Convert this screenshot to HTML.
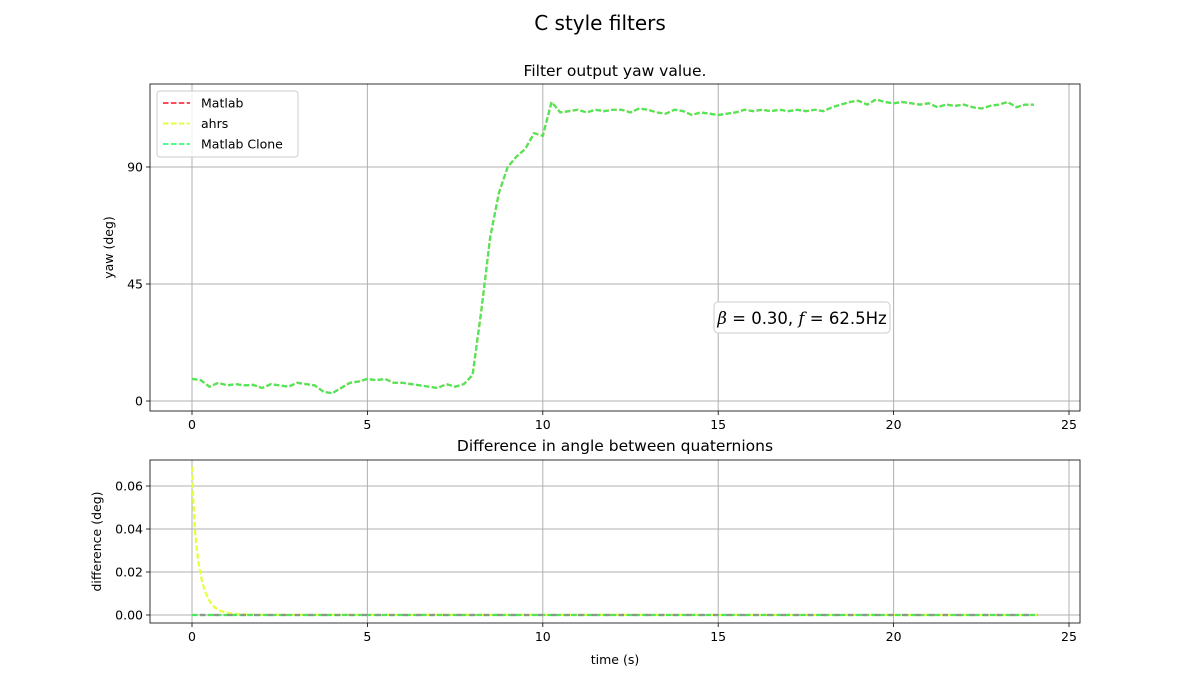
<!DOCTYPE html>
<html><head><meta charset="utf-8"><style>
body{margin:0;background:#fff;}
svg{display:block;font-family:"DejaVu Sans","Liberation Sans",sans-serif;}
</style></head><body>
<svg id="fig" width="1200" height="700" viewBox="0 0 1200 700">
<rect width="1200" height="700" fill="#fff"/>
<text x="600" y="30" font-size="20" text-anchor="middle">C style filters</text>
<g id="top"></g>
<g id="bot"></g>
</svg>
<script>
const yawDt = 0.25;
const yawValues = [8.5,8,5.5,7,6,6.5,6,6.2,5,6.5,6,5.5,7,6.5,6,3.5,3,5,7,7.5,8.5,8,8.5,7,7,6.5,6,5.5,5,6.5,5.5,6.5,10,35,63,80,90,94,97,103,102,115,111,111.5,112,111,112,111.5,112,112,111,112.5,112,111,110.5,112,111.5,110,111,110.5,110,110.5,111,112,111.5,112,111.5,112,111.5,112,111.5,112,111.5,113,114,115,115.5,114,116,115,114.5,115,114.5,114,114.5,113,114,113.5,114,113,112.5,113.5,114,115,113,114,114];
const diffTimes = [0,0.03,0.085,0.14,0.2,0.28,0.37,0.5,0.65,0.8,1,1.3,1.8,24.1];
const ahrsDiff = [0.069,0.055,0.0388,0.03,0.023,0.016,0.011,0.0065,0.0035,0.002,0.001,0.0004,0.0001,0];
const cloneDiff = [0,0];
const cloneTimes = [0,24.1];
const xTicks = [0,5,10,15,20,25];
const yawTicks = [0,45,90];
const diffTicks = [0,0.02,0.04,0.06];
const diffTickLabels = ["0.00","0.02","0.04","0.06"];
const legendLabels = ["Matlab","ahrs","Matlab Clone"];
const colors = ["#ff4a5a","#e6ff3a","#4dff8a"];

const NS="http://www.w3.org/2000/svg";
function mk(parent,tag,attrs){const e=document.createElementNS(NS,tag);for(const k in attrs)e.setAttribute(k,attrs[k]);parent.appendChild(e);return e;}
const L=150,R=1080;
const xs=t=>192+(t-0)*(1069-192)/25;
function axes(g,top,bottom,ys,ticks,labels,ylabel){
  xTicks.forEach(t=>{const l=mk(g,'line',{x1:xs(t),x2:xs(t),y1:top,y2:bottom,stroke:'#b0b0b0','stroke-width':1});
    
    const tk=mk(g,'line',{x1:xs(t),x2:xs(t),y1:bottom,y2:bottom+4,stroke:'#000','stroke-width':0.8});
    
    const tx=mk(g,'text',{x:xs(t),y:bottom+18,'font-size':12.5,'text-anchor':'middle'});tx.textContent=t;
    });
  ticks.forEach((v,i)=>{const y=ys(v);const l=mk(g,'line',{x1:L,x2:R,y1:y,y2:y,stroke:'#b0b0b0','stroke-width':1});
    
    const tk=mk(g,'line',{x1:L-4,x2:L,y1:y,y2:y,stroke:'#000','stroke-width':0.8});
    
    const tx=mk(g,'text',{x:L-7,y:y+4.5,'font-size':12.5,'text-anchor':'end'});tx.textContent=labels[i];
    });
  const yl=mk(g,'text',{x:0,y:0,'font-size':12.5,'text-anchor':'middle',transform:`translate(${ylabel[1]},${(top+bottom)/2}) rotate(-90)`});
  yl.textContent=ylabel[0];
  
}
function line(g,xsArr,vals,ys,color,name){
  const d=vals.map((v,i)=>(i?'L':'M')+xs(xsArr(i)).toFixed(1)+','+ys(v).toFixed(1)).join('');
  const p=mk(g,'path',{d,fill:'none',stroke:color,'stroke-width':2.2,'stroke-dasharray':'5.5,2.4'});
  
}
const gt=document.getElementById('top');
const yT=v=>401-v*(401-167)/90;
axes(gt,84,411,yT,yawTicks,yawTicks.map(String),['yaw (deg)',113]);
line(gt,i=>i*yawDt,yawValues,yT,colors[0],'matlab-yaw-line');
line(gt,i=>i*yawDt,yawValues,yT,colors[1],'ahrs-yaw-line');
line(gt,i=>i*yawDt,yawValues,yT,'#4ee65c','matlab-clone-yaw-line');
let fr=mk(gt,'rect',{x:L,y:84,width:R-L,height:327,fill:'none',stroke:'#000','stroke-width':0.8});

let tt=mk(gt,'text',{x:615,y:76,'font-size':15.5,'text-anchor':'middle'});tt.textContent='Filter output yaw value.';

const lg=mk(gt,'g',{});
mk(lg,'rect',{x:157,y:91,width:141,height:66,rx:3,fill:'#fff','fill-opacity':0.8,stroke:'#ccc'});
legendLabels.forEach((s,i)=>{const y=103+i*20.5;
  const e=mk(lg,'g',{});
  mk(e,'line',{x1:163,x2:190,y1:y,y2:y,stroke:colors[i],'stroke-width':2,'stroke-dasharray':'5.5,2.4'});
  const t=mk(e,'text',{x:201,y:y+4.5,'font-size':12.5});t.textContent=s;});
const an=mk(gt,'g',{});
mk(an,'rect',{x:714,y:302,width:176,height:31,rx:4,fill:'#fff',stroke:'#ccc'});
const at=mk(an,'text',{x:802,y:324,'font-size':16.5,'text-anchor':'middle'});
at.innerHTML='<tspan font-style="italic" font-family="DejaVu Serif, serif">β</tspan> = 0.30,  <tspan font-style="italic" font-family="DejaVu Serif, serif">f</tspan> = 62.5Hz';
const gb=document.getElementById('bot');
const yB=v=>615-v*(615-486)/0.06;
axes(gb,460,623,yB,diffTicks,diffTickLabels,['difference (deg)',101]);
line(gb,i=>diffTimes[i],ahrsDiff,yB,colors[1],'ahrs-difference-line');
line(gb,i=>cloneTimes[i],cloneDiff,yB,'#4ee65c','matlab-clone-difference-line');
const gl=mk(gb,'path',{d:`M${xs(0)},${yB(0)}L${xs(24.1)},${yB(0)}`,stroke:'#8a9a8a','stroke-width':2.2,'stroke-dasharray':'5.5,8','stroke-dashoffset':-8,fill:'none'});

fr=mk(gb,'rect',{x:L,y:460,width:R-L,height:163,fill:'none',stroke:'#000','stroke-width':0.8});

tt=mk(gb,'text',{x:615,y:451,'font-size':15.5,'text-anchor':'middle'});tt.textContent='Difference in angle between quaternions';

const xl=mk(gb,'text',{x:615,y:664,'font-size':12.5,'text-anchor':'middle'});xl.textContent='time (s)';

</script>
</body></html>
